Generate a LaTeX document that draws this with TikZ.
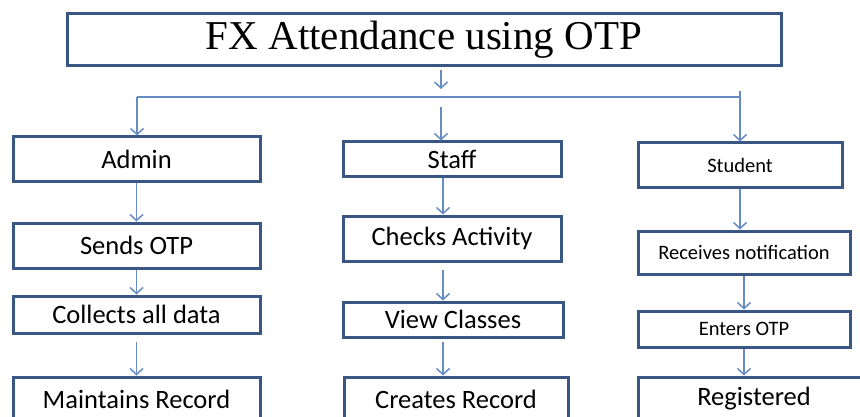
\documentclass[tikz,border=0pt]{standalone}
\usepackage{fontspec}
\setmainfont{Carlito}
\newfontfamily\titlefont{Liberation Serif}
\usetikzlibrary{arrows.meta}
\definecolor{boxline}{RGB}{58,86,130}
\definecolor{arrline}{RGB}{102,140,198}
\begin{document}
\begin{tikzpicture}[x=1pt, y=-1pt,
    >={Straight Barb[length=6pt,width=13pt]},
    box/.style={draw=boxline, line width=3pt, inner sep=0pt, font=\fontsize{26.5}{30}\selectfont},
    sbox/.style={box, font=\fontsize{20.5}{24}\selectfont},
    arr/.style={->, draw=arrline, line width=1.5pt}]
\clip (0,0) rectangle (860,417);

\node[box, minimum width=714pt, minimum height=52pt, font=\titlefont\fontsize{41}{46}\selectfont] (title) at (424,40) {FX Attendance using OTP};

% left column
\node[box, minimum width=247pt, minimum height=45pt] (admin) at (136.5,159.5) {Admin};
\node[box, minimum width=247pt, minimum height=45pt] (sends) at (136.5,245.5) {Sends OTP};
\node[box, minimum width=247pt, minimum height=37pt] (collect) at (136.5,314.5) {Collects all data};
\node[box, minimum width=247pt, minimum height=44pt] (maint) at (136.5,399) {Maintains Record};

% middle column
\node[box, minimum width=218pt, minimum height=35pt] (staff) at (452,159.5) {Staff};
\node[box, minimum width=218pt, minimum height=45pt] (checks) at (452,238.5) {Checks Activity};
\node[box, minimum width=220pt, minimum height=35pt] (view) at (453,319.5) {View Classes};
\node[box, minimum width=224pt, minimum height=44pt] (creates) at (456,399) {Creates Record};

% right column
\node[sbox, minimum width=204pt, minimum height=45pt] (student) at (740,165.5) {Student};
\node[sbox, minimum width=212pt, minimum height=43pt] (receive) at (744,252.5) {Receives notification};
\node[sbox, minimum width=212pt, minimum height=36pt] (enters) at (744,329) {Enters OTP};
\node[box, minimum width=232pt, minimum height=44pt] (regd) at (754,399) {Registered};

% bus
\coordinate (top) at (441,89);
\coordinate (busL) at (137,97);
\coordinate (busR) at (740,97);
\coordinate (busT) at (740,91);
\coordinate (busM) at (441,107);
\coordinate (midx) at (443,0);
\draw[arr, shorten <=3pt] (title.south -| top) -- (top);
\draw[arrline, line width=1.5pt] (busT) -- (busR) -- (busL);
\draw[arr] (busL) -- (busL |- admin.north);
\draw[arr] (busM) -- (busM |- staff.north);
\draw[arr] (busR) -- (busR |- student.north);

\foreach \a/\b/\g in {admin/sends/0, sends/collect/0, collect/maint/7,
                      student/receive/0, receive/enters/0, enters/regd/0}
{
    \draw[arr, shorten <=\g pt] (\a.south) -- (\b.north -| \a.south);
}
\foreach \a/\b/\g in {staff/checks/0, checks/view/7, view/creates/3}
{
    \draw[arr, shorten <=\g pt] (\a.south -| midx) -- (\b.north -| midx);
}

\end{tikzpicture}
\end{document}
